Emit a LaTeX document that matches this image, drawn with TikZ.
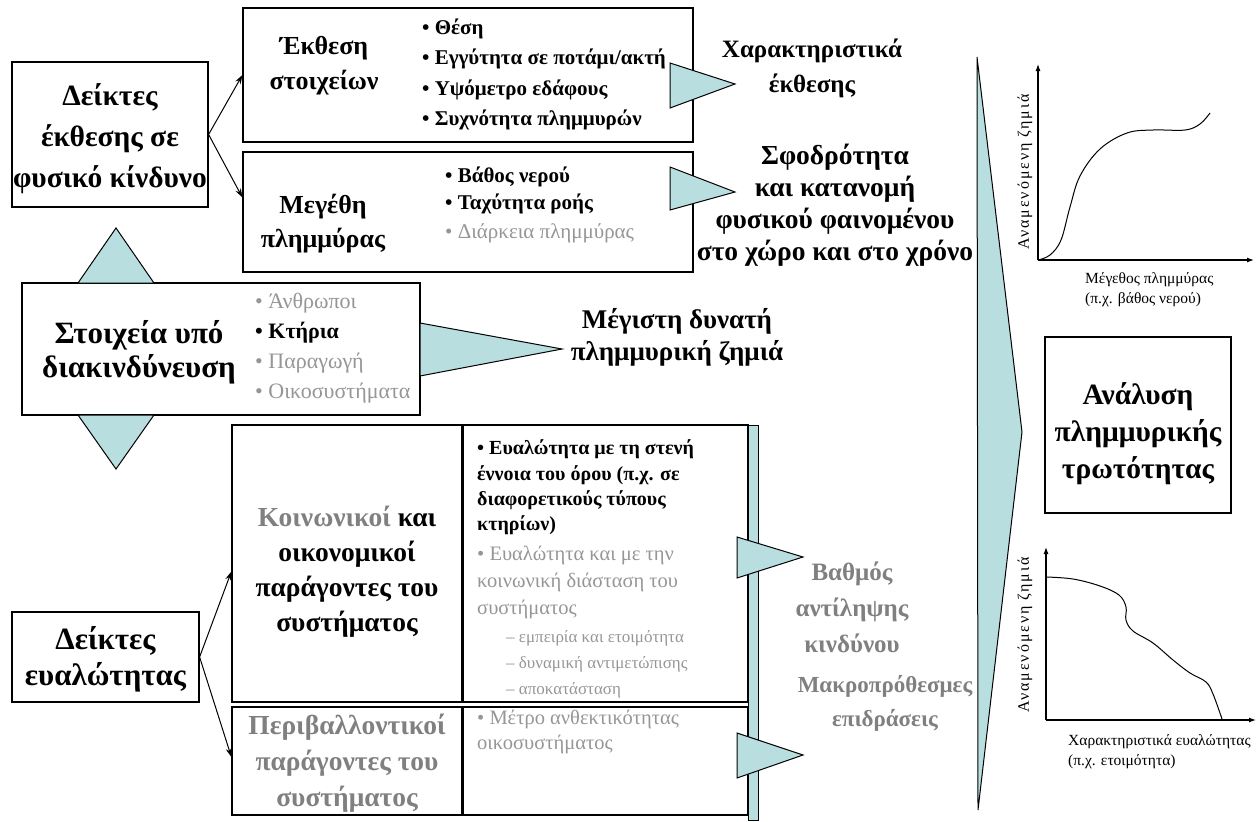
\documentclass[tikz,border=0pt]{standalone}
\usepackage{fontspec}
\setmainfont{Liberation Serif}
\usetikzlibrary{arrows.meta,calc}
\definecolor{tri}{RGB}{185,222,224}
\definecolor{headgray}{RGB}{128,128,128}
\definecolor{itemgray}{RGB}{150,150,150}
\newcommand\hf[2]{\fontsize{#1}{#2}\selectfont\bfseries}
\newcommand\rf[2]{\fontsize{#1}{#2}\selectfont}
\newfontfamily\spacedfont[LetterSpace=12]{Liberation Serif}

\begin{document}
\begin{tikzpicture}[x=1pt,y=-1pt,
  box/.style={draw=black, line width=1.2pt, fill=white, inner sep=0pt},
  cell/.style={draw=black, line width=1.2pt, inner sep=0pt},
  wedge/.style={draw=black, line width=1pt, fill=tri},
  conn/.style={-{Stealth[length=9pt,width=6pt]}, line width=1pt},
  axis/.style={-{Latex[length=7pt,width=5pt]}, line width=1.2pt},
  hd/.style={align=center, inner sep=0pt},
  item/.style={anchor=west, inner sep=0pt, text height=0.72em, text depth=0.22em},
  bitem/.style={item, font=\hf{21}{26}},
  gitem/.style={item, font=\rf{21}{26}, text=itemgray},
  titem/.style={item, font=\hf{20}{24}},
  tgitem/.style={item, font=\rf{20.5}{24}, text=itemgray},
  tsub/.style={item, font=\rf{17}{20}, text=itemgray},
  glabel/.style={inner sep=0pt, font=\rf{15.5}{20}},
  ylabel/.style={inner sep=0pt, rotate=90, font=\spacedfont\fontsize{16}{20}\selectfont},
]
\useasboundingbox (0,0) rectangle (1259,822);

% ---------- exposure indicators ----------
\node[box, minimum width=196pt, minimum height=145pt] (boxA) at (110,134.5) {};
\node[hd, font=\hf{29.5}{41}] (tA) at (110,139) {Δείκτες\\έκθεσης σε\\φυσικό κίνδυνο};

\node[box, minimum width=450pt, minimum height=134pt] (boxB) at (468,75) {};
\node[hd, font=\hf{26}{35}] (tB) at (324,66) {Έκθεση\\στοιχείων};
\node[bitem] (b1) at (422,32) {• Θέση};
\node[bitem] (b2) at (422,62) {• Εγγύτητα σε ποτάμι/ακτή};
\node[bitem] (b3) at (422,93) {• Υψόμετρο εδάφους};
\node[bitem] (b4) at (422,123) {• Συχνότητα πλημμυρών};

\node[box, minimum width=450pt, minimum height=120pt] (boxC) at (468,212) {};
\node[hd, font=\hf{26}{34}] (tC) at (323,224) {Μεγέθη\\πλημμύρας};
\node[bitem] (c1) at (445,180) {• Βάθος νερού};
\node[bitem] (c2) at (445,207) {• Ταχύτητα ροής};
\node[gitem] (c3) at (445,236) {• Διάρκεια πλημμύρας};

\draw[conn] (boxA.east) -- (boxB.west);
\draw[conn] (boxA.east) -- ($(boxC.north west)!0.38!(boxC.south west)$);

% ---------- elements at risk ----------
\node[box, minimum width=398pt, minimum height=132pt] (boxD) at (221,349) {};
\node[hd, font=\hf{31}{34}] (tD) at (139,352) {Στοιχεία υπό\\διακινδύνευση};
\node[gitem, font=\rf{22}{26}] (d1) at (255,306) {• Άνθρωποι};
\node[bitem, font=\hf{22}{26}] (d2) at (255,336) {• Κτήρια};
\node[gitem, font=\rf{22}{26}] (d3) at (255,366) {• Παραγωγή};
\node[gitem, font=\rf{22}{26}] (d4) at (255,396) {• Οικοσυστήματα};

% ---------- vulnerability indicators ----------
\node[box, minimum width=187pt, minimum height=90pt] (boxE) at (105.5,657) {};
\node[hd, font=\hf{31}{36}] (tE) at (105.5,659) {Δείκτες\\ευαλώτητας};

% table of factors
\node[cell, minimum width=230pt, minimum height=277pt] (cKL) at (347,563.5) {};
\node[cell, minimum width=286pt, minimum height=277pt] (cKR) at (605,563.5) {};
\node[cell, minimum width=230pt, minimum height=108pt] (cPL) at (347,761) {};
\node[cell, minimum width=286pt, minimum height=108pt] (cPR) at (605,761) {};
\draw[line width=1.8pt] (cKL.north east) -- (cKL.south east);
\draw[line width=1.8pt] (cPL.north east) -- (cPL.south east);
\node[draw=black, line width=1pt, fill=tri, minimum width=10pt, minimum height=395pt, inner sep=0pt] (bar) at (753,622.5) {};

\node[hd, font=\hf{27.5}{35}] (tK) at (347,572) {\textcolor{headgray}{Κοινωνικοί} και\\οικονομικοί\\παράγοντες του\\συστήματος};
\node[hd, font=\hf{27.5}{36}, text=headgray] (tP) at (347,763) {Περιβαλλοντικοί\\παράγοντες του\\συστήματος};

\node[titem] (k1) at (477,452) {• Ευαλώτητα με τη στενή};
\node[titem] (k2) at (477,478) {έννοια του όρου (π.χ. σε};
\node[titem] (k3) at (477,503) {διαφορετικούς τύπους};
\node[titem] (k4) at (477,528) {κτηρίων)};
\node[tgitem] (k5) at (477,558) {• Ευαλώτητα και με την};
\node[tgitem] (k6) at (477,585) {κοινωνική διάσταση του};
\node[tgitem] (k7) at (477,612) {συστήματος};
\node[tsub] (k8) at (506,640) {– εμπειρία και ετοιμότητα};
\node[tsub] (k9) at (506,666) {– δυναμική αντιμετώπισης};
\node[tsub] (k10) at (506,692) {– αποκατάσταση};
\node[tgitem] (p1) at (477,722) {• Μέτρο ανθεκτικότητας};
\node[tgitem] (p2) at (477,747) {οικοσυστήματος};

\draw[conn] (boxE.east) -- ($(cKL.west)+(0,8)$);
\draw[conn] (boxE.east) -- ($(cPL.west)+(0,-4)$);

% ---------- outcome labels ----------
\node[hd, font=\hf{25}{35}] (oX) at (812,68) {Χαρακτηριστικά\\έκθεσης};
\node[hd, font=\hf{27.5}{32}] (oS) at (835,205) {Σφοδρότητα\\και κατανομή\\φυσικού φαινομένου\\στο χώρο και στο χρόνο};
\node[hd, font=\hf{27}{32}] (oM) at (677,337) {Μέγιστη δυνατή\\πλημμυρική ζημιά};
\node[hd, font=\hf{25}{36}, text=headgray] (oB) at (852,607) {Βαθμός\\αντίληψης\\κινδύνου};
\node[hd, font=\hf{23}{34}, text=headgray] (oL) at (885,703) {Μακροπρόθεσμες\\επιδράσεις};

% ---------- block arrows ----------
\filldraw[wedge] (670,63) -- (735,84) -- (670,108) -- cycle;
\filldraw[wedge] (670,167) -- (735,192) -- (670,210) -- cycle;
\filldraw[wedge] (420,323) -- (562,349) -- (420,376) -- cycle;
\filldraw[wedge] (78,283) -- (116,228) -- (154,283) -- cycle;
\filldraw[wedge] (78,415) -- (116,469) -- (154,415) -- cycle;
\filldraw[wedge] (737,537) -- (803,557) -- (737,578) -- cycle;
\filldraw[wedge] (737,733) -- (803,755) -- (737,778) -- cycle;
\filldraw[wedge] (977,57) -- (1022,432) -- (978,810) -- cycle;

% ---------- vulnerability analysis ----------
\node[box, minimum width=186pt, minimum height=176pt] (boxF) at (1138,425) {};
\node[hd, font=\hf{29.5}{37}] (tF) at (1138,434) {Ανάλυση\\πλημμυρικής\\τρωτότητας};

% damage vs flood magnitude
\draw[axis] (1038,260) -- (1038,64);
\draw[axis] (1038,260) -- (1254,260);
\draw[line width=1pt] plot[smooth, tension=0.6] coordinates {(1038,260) (1050,255) (1061,240) (1070,207) (1080,176) (1100,149) (1127,133) (1153,130) (1185,130) (1200,124) (1210,113)};
\node[ylabel] (g1y) at (1025,172) {Αναμενόμενη ζημιά};
\node[glabel, anchor=north west, align=left] (g1x) at (1085,272) {Μέγεθος πλημμύρας\\(π.χ. βάθος νερού)};

% damage vs vulnerability characteristics
\draw[axis] (1046,720) -- (1046,547);
\draw[axis] (1046,720) -- (1256,720);
\draw[line width=1pt] plot[smooth, tension=0.6] coordinates {(1046,577) (1073,579) (1100,586) (1119,595) (1126,607) (1126,620) (1133,631) (1153,643) (1173,660) (1190,673) (1206,682) (1213,694) (1222,719)};
\node[ylabel] (g2y) at (1025,635) {Αναμενόμενη ζημιά};
\node[glabel, anchor=north west, align=left] (g2x) at (1068,734) {Χαρακτηριστικά ευαλώτητας\\(π.χ. ετοιμότητα)};
\end{tikzpicture}
\end{document}
